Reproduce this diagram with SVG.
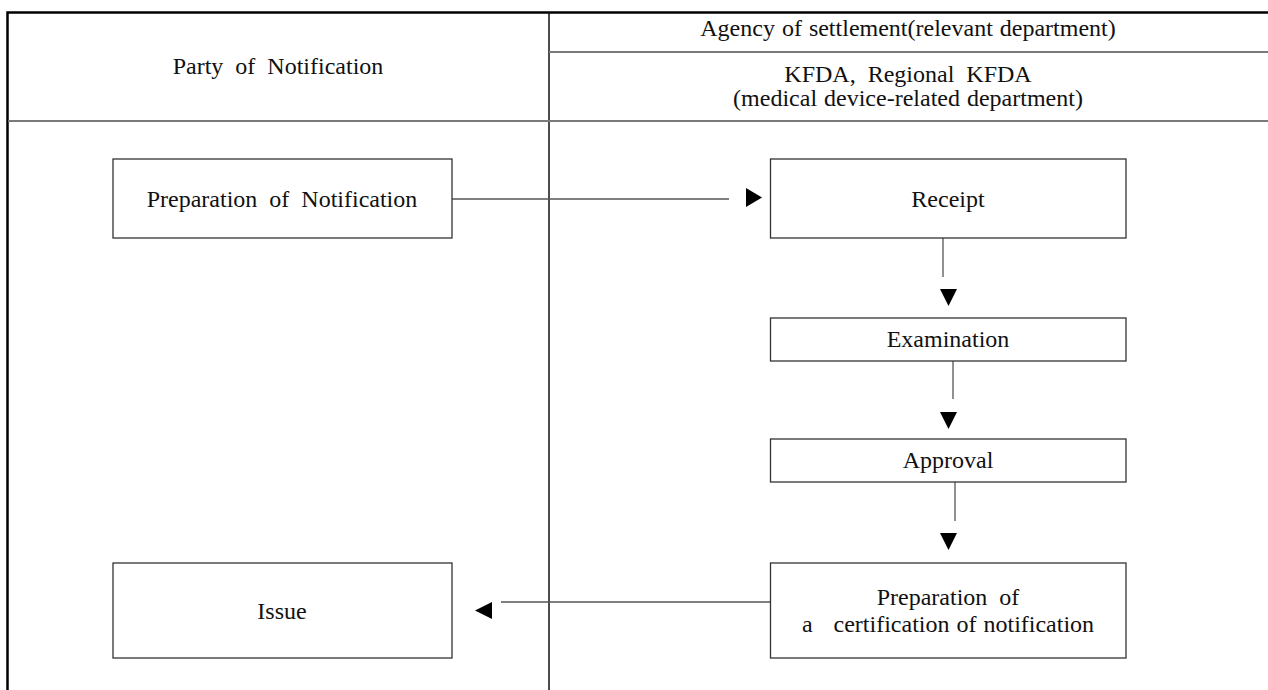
<svg xmlns="http://www.w3.org/2000/svg" width="1268" height="690" viewBox="0 0 1268 690">
  <style>
    .frame { stroke: #000; stroke-width: 2.5; fill: none; }
    .divider { stroke: #111; stroke-width: 1.5; fill: none; }
    .sep { stroke: #7a7a7a; stroke-width: 2; fill: none; }
    .box { fill: #fff; stroke: #333; stroke-width: 1.3; }
    .conn { stroke: #555; stroke-width: 1.3; fill: none; }
    .head { fill: #000; }
    text { font-family: "Liberation Serif", "Times New Roman", serif; font-size: 24px; fill: #111; text-anchor: middle; word-spacing: 6px; }
    .tight { word-spacing: 1px; }
  </style>
  <rect width="1268" height="690" fill="#fff"/>

  <!-- table frame and header -->
  <g id="table">
    <path class="frame" d="M7.5 690 V12.5 H1268"/>
    <line class="divider" x1="549" y1="12" x2="549" y2="690"/>
    <line class="sep" x1="549" y1="52" x2="1268" y2="52"/>
    <line class="sep" x1="8" y1="121" x2="1268" y2="121"/>
    <text x="278" y="74">Party of Notification</text>
    <text class="tight" x="908" y="36">Agency of settlement(relevant department)</text>
    <text x="908" y="82">KFDA, Regional KFDA</text>
    <text class="tight" x="908" y="106">(medical device-related department)</text>
  </g>

  <!-- connectors -->
  <g id="connectors">
    <line class="conn" x1="452" y1="199" x2="729" y2="199"/>
    <polygon class="head" points="746,188 762,197.5 746,207"/>
    <line class="conn" x1="943" y1="238" x2="943" y2="277"/>
    <polygon class="head" points="940,289 957,289 948.5,306"/>
    <line class="conn" x1="953" y1="361" x2="953" y2="399"/>
    <polygon class="head" points="940,412 957,412 948.5,429"/>
    <line class="conn" x1="955" y1="482" x2="955" y2="521"/>
    <polygon class="head" points="940,533 957,533 948.5,550"/>
    <line class="conn" x1="770" y1="602" x2="501" y2="602"/>
    <polygon class="head" points="492,602 492,619 475,610.5"/>
  </g>

  <g id="prep-notification">
    <rect class="box" x="113" y="159" width="339" height="79"/>
    <text x="282" y="207">Preparation of Notification</text>
  </g>

  <g id="receipt">
    <rect class="box" x="770.5" y="159" width="355.5" height="79"/>
    <text x="948" y="207">Receipt</text>
  </g>

  <g id="examination">
    <rect class="box" x="770.5" y="318" width="355.5" height="43"/>
    <text x="948" y="347">Examination</text>
  </g>

  <g id="approval">
    <rect class="box" x="770.5" y="439" width="355.5" height="43"/>
    <text x="948" y="468">Approval</text>
  </g>

  <g id="prep-certification">
    <rect class="box" x="770.5" y="563" width="355.5" height="95"/>
    <text x="948" y="605">Preparation of</text>
    <text class="tight" x="948" y="632" xml:space="preserve">a   certification of notification</text>
  </g>

  <g id="issue">
    <rect class="box" x="113" y="563" width="339" height="95"/>
    <text x="282" y="619">Issue</text>
  </g>
</svg>
